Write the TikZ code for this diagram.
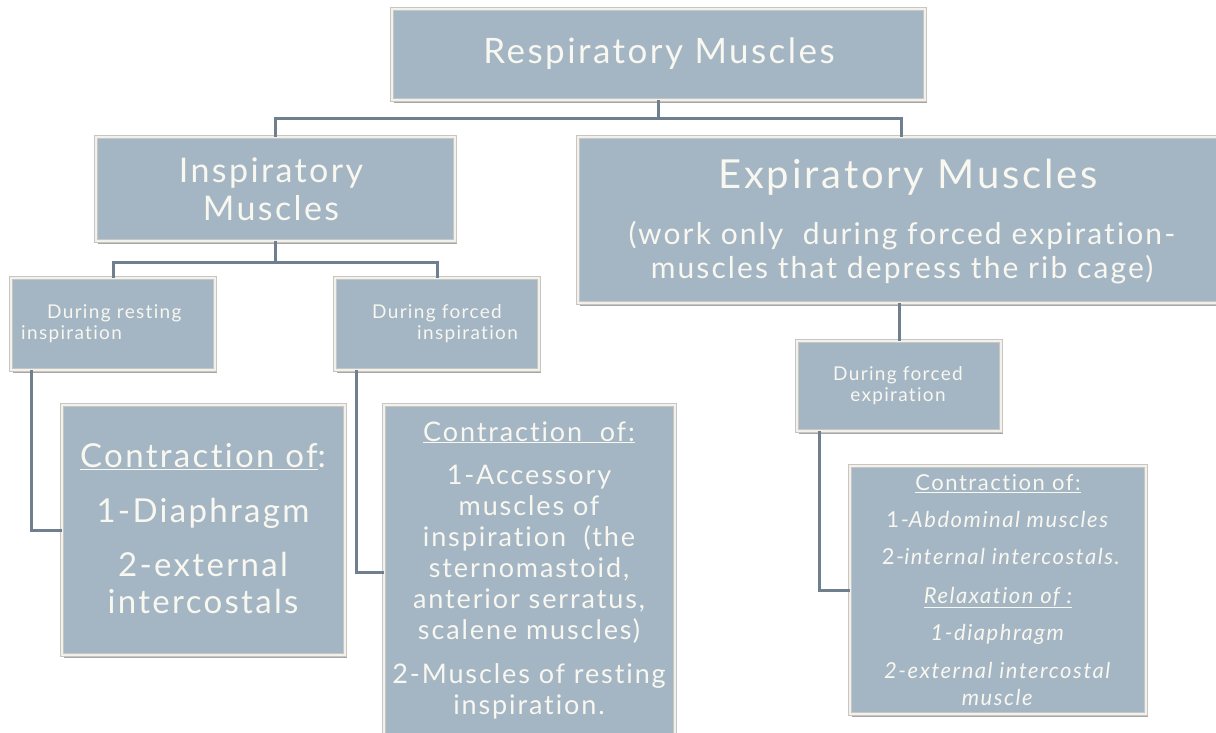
\documentclass[tikz,border=0pt]{standalone}
\usepackage{fontspec}
\setmainfont{Lato}[LetterSpace=7.0, Ligatures={NoCommon}]
\usetikzlibrary{shadows}
\definecolor{boxfill}{HTML}{A4B5C3}
\definecolor{boxedge}{HTML}{F4F2E8}
\definecolor{linecol}{HTML}{6F7F8D}
\definecolor{txt}{HTML}{F8F7F0}
\newcommand\fsz[2]{\fontsize{#1}{#2}\selectfont}
\begin{document}
\begin{tikzpicture}[x=1pt,y=-1pt,
  box/.style={rectangle, fill=boxfill, draw=gray!45, double=boxedge, double distance=2.2pt, line width=0.5pt,
    drop shadow={shadow xshift=1.5pt, shadow yshift=-2.5pt, opacity=0.35, fill=black}, inner sep=0pt},
  lbl/.style={text=txt, align=center, inner sep=0pt},
  conn/.style={draw=linecol, line width=3pt}]
\clip (0,0) rectangle (1216,732);
\fill[white] (0,0) rectangle (1216,732);

% boxes
\node[box, minimum width=533, minimum height=91] (top) at (658.5,54.5) {};
\node[box, minimum width=359, minimum height=104] (insp) at (275.5,189) {};
\node[box, minimum width=646, minimum height=166] (exp) at (901,220) {};
\node[box, minimum width=204, minimum height=92] (rest) at (113,324) {};
\node[box, minimum width=204, minimum height=92] (finsp) at (437,324) {};
\node[box, minimum width=283, minimum height=250] (cleft) at (203.5,530) {};
\node[box, minimum width=291, minimum height=335] (cmid) at (529.5,572.5) {};
\node[box, minimum width=204, minimum height=90] (fexp) at (899,386) {};
\node[box, minimum width=296, minimum height=248] (cright) at (998,590) {};

% connectors
\draw[conn] (top.south) -- ++(0,18) coordinate (j1) -| (insp.north);
\draw[conn] (j1) -| (exp.north);
\draw[conn] (insp.south) -- ++(0,21) coordinate (j2) -| (rest.north);
\draw[conn] (j2) -| (finsp.north);
\draw[conn] ([xshift=21pt]rest.south west) |- (cleft.west);
\draw[conn] ([xshift=22pt]finsp.south west) |- (cmid.west);
\draw[conn] (exp.south -| fexp.north) -- (fexp.north);
\draw[conn] ([xshift=23pt]fexp.south west) |- (cright.west);

% texts
\node[lbl, font=\fsz{35}{42}] (ttop) at (659,54) {Respiratory Muscles};
\node[lbl, font=\fsz{34}{38}] (tinsp) at (271,189) {Inspiratory\\Muscles};
\node[lbl, font=\fsz{40}{48}] (texp) at (908,177) {Expiratory Muscles};
\node[lbl, font=\fsz{30}{34}] (texps) at (902,253) {(work only\ \ during forced expiration-\\muscles that depress the rib cage)};
\node[lbl, align=left, anchor=west, font=\fsz{19}{21}] (trest) at (21,324) {\hspace*{26pt}During resting\\inspiration};
\node[lbl, align=left, anchor=west, font=\fsz{19}{21}] (tfinsp) at (372,324) {During forced\\\hspace*{45pt}inspiration};
\node[lbl, font=\fsz{19}{21}] (tfexp) at (898,386) {During forced\\expiration};
\node[lbl, font=\fsz{33}{37}] (tcleft) at (203,529) {\underline{Contraction of}:\\[18pt]1-Diaphragm\\[17pt]2-external\\intercostals};
\node[lbl, font=\fsz{27}{31}] (tcmid) at (529,570) {\underline{Contraction\ \ of:}\\[12pt]1-Accessory\\muscles of\\inspiration\ \ (the\\sternomastoid,\\anterior serratus,\\scalene muscles)\\[13pt]2-Muscles of resting\\inspiration.};
\node[lbl, font=\fsz{22}{27}] (tcright) at (998,590) {\underline{Contraction of:}\\[10pt]1-\textit{Abdominal muscles}\\[10pt]\ 2-\textit{internal intercostals.}\\[12pt]\textit{\underline{Relaxation of :}}\\[10pt]\textit{1-diaphragm}\\[11pt]\textit{2-external intercostal}\\\textit{muscle}};
\end{tikzpicture}
\end{document}
